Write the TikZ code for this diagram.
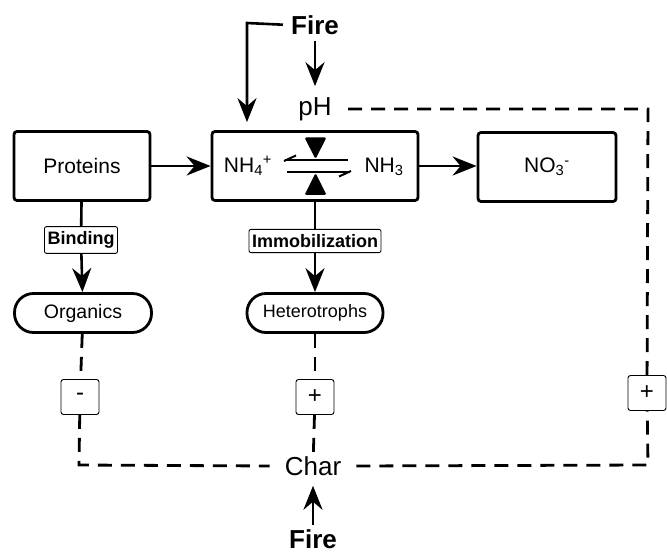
\documentclass[tikz,border=0pt]{standalone}
\usepackage{fontspec}
\setmainfont{Liberation Sans}
\usetikzlibrary{arrows.meta}
\begin{document}
\begin{tikzpicture}[x=1pt,y=-1pt,
  mainbox/.style={draw, line width=2.8pt, rounded corners=3pt, minimum height=69pt, inner sep=0pt, font=\fontsize{21}{24}\selectfont},
  pill/.style={draw, line width=2.8pt, rounded corners=19pt, minimum width=136pt, minimum height=39pt, inner sep=0pt, font=\fontsize{18}{21}\selectfont},
  lab/.style={draw, line width=0.9pt, rounded corners=2pt, inner xsep=3pt, inner ysep=5pt, fill=white, font=\bfseries\fontsize{18}{20}\selectfont},
  sign/.style={draw, line width=0.9pt, rounded corners=2.5pt, minimum width=38pt, minimum height=35pt, inner sep=0pt, fill=white, font=\fontsize{24}{26}\selectfont},
  big/.style={inner xsep=15pt, inner ysep=2pt, font=\fontsize{26}{28}\selectfont},
  fire/.style={inner sep=2pt, font=\bfseries\fontsize{26}{28}\selectfont},
  arr/.style={line width=2.6pt, -{Stealth[length=24pt,width=19pt,inset=8pt]}},
  plain/.style={line width=2.6pt},
  dsh/.style={line width=2.8pt, dash pattern=on 14pt off 9pt},
  eq/.style={line width=2pt},
  txt/.style={inner sep=0pt, font=\fontsize{21}{24}\selectfont}
]
\path[use as bounding box] (0,0) rectangle (667,553);

% main boxes
\node[mainbox, minimum width=136pt] (prot) at (82,166) {Proteins};
\node[mainbox, minimum width=206pt] (cen) at (315,166) {};
\node[mainbox, minimum width=138pt] (no3) at (547,167) {NO\textsubscript{3}\textsuperscript{-}};

% inside central box
\node[txt] (nh4) at (248,166) {NH\textsubscript{4}\textsuperscript{+}};
\node[txt] (nh3) at (384,167) {NH\textsubscript{3}};
\draw[eq] (285,160) -- (348,160);
\draw[eq] (284,161) -- (296,155.5);
\draw[eq] (287,172) -- (350,172);
\draw[eq] (351,171) -- (339,176.5);
\fill[rounded corners=1.5pt] (304.5,137.5) -- (326.5,137.5) -- (315.5,159) -- cycle;
\fill[rounded corners=1.5pt] (304.5,195) -- (326.5,195) -- (315.5,173) -- cycle;

% labels and pills
\node[lab] (bind) at (81,240) {Binding};
\node[lab] (imm) at (315,241) {Immobilization};
\node[pill, minimum width=137pt, font=\fontsize{19.5}{22}\selectfont] (org) at (83,313) {Organics};
\node[pill] (het) at (315,313) {Heterotrophs};

% top
\node[fire] (ftop) at (315,25) {Fire};
\node[big] (ph) at (315,109) {pH};
\coordinate (c1) at (247,23);

% bottom
\node[big] (char) at (313,466) {Char};
\node[fire] (fbot) at (313,539) {Fire};

% signs
\node[sign] (minus) at (80,397) {-};
\node[sign] (plus) at (315,397) {+};
\node[sign] (rplus) at (647,393) {+};
\coordinate (tr) at (648,109);
\coordinate (br) at (648,465);
\coordinate (bl) at (79,465);

% solid connectors
\draw[arr] (prot) -- (cen);
\draw[arr] (cen) -- (no3.west |- cen);
\draw[plain] (prot) -- (bind);
\draw[arr] (bind) -- (org);
\draw[plain] (cen) -- (imm);
\draw[arr] (imm) -- (het);
\draw[arr, shorten <=4pt, shorten >=9pt] (ftop) -- (ph);
\draw[arr, shorten <=6pt, shorten >=8pt] (ftop.west) -- (c1) -- (c1 |- cen.north);
\draw[arr, shorten <=2pt, shorten >=8pt] (fbot) -- (char);

% dashed connectors
\draw[dsh] (org) -- (minus);
\draw[dsh] (minus) -- (bl) -- (char.west);
\draw[dsh] (het) -- (plus);
\draw[dsh] (plus) -- (char);
\draw[dsh] (char.east) -- (br) -- (rplus);
\draw[dsh] (rplus) -- (tr) -- (ph.east);
\end{tikzpicture}
\end{document}
